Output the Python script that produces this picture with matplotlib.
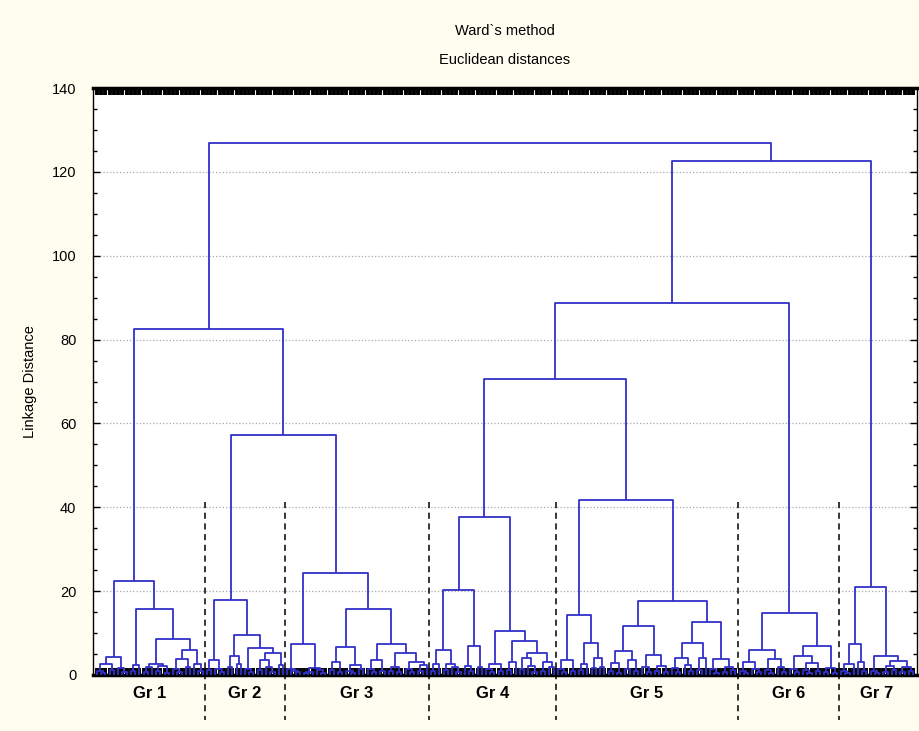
import matplotlib
matplotlib.use('Agg')
import matplotlib.pyplot as plt
from matplotlib.collections import LineCollection
from matplotlib.ticker import MultipleLocator, FixedLocator, NullFormatter

# ---------------- data ----------------
# node = (merge height, left, right); 0 = a single leaf (object)
gr1 = (22.4,
       (4.2, (2.7, (1.0, 0, (0.5, 0, 0)), (1.2, 0, 0)), (1.7, 0, (0.8, 0, 0))),
       (15.7,
        (2.4, (1.0, 0, 0), 0),
        (8.5,
         (2.7, (1.8, (0.7, 0, 0), 0), (2.2, (0.9, 0, 0), (0.5, 0, 0))),
         (6.0,
          (3.8, (1.5, 0, (0.6, 0, 0)), (2.0, 0, 0)),
          (2.7, 0, (1.0, 0, 0))))))

gr2 = (17.8,
       (3.6, (1.3, 0, 0), (1.5, 0, (0.6, 0, 0))),
       (9.5,
        (4.5, (1.8, 0, 0), (2.6, 0, 0)),
        (6.4,
         (1.5, 0, (0.7, 0, 0)),
         (5.2, (3.6, (1.2, 0, 0), (2.0, 0, (0.8, 0, 0))), (2.5, 0, 0)))))

gr3 = (24.3,
       (7.4, (1.5, 0, (1.0, 0, (0.6, 0, 0))),
        (1.6, (0.8, (0.4, 0, 0), 0), (1.2, 0, (0.5, 0, 0)))),
       (15.7,
        (6.6, (3.2, (1.2, 0, 0), (0.7, 0, 0)),
         (2.5, (1.0, 0, (0.5, 0, 0)), (1.4, 0, 0))),
        (7.4,
         (3.5, (1.5, 0, (0.6, 0, 0)), (1.0, 0, 0)),
         (5.3,
          (2.0, (0.9, 0, 0), (0.8, 0, 0)),
          (3.2, (1.5, 0, (0.7, 0, 0)), (2.3, (1.0, 0, 0), 0))))))

gr4 = (37.7,
       (20.3,
        (6.0, (2.7, (1.0, 0, 0), 0), (2.7, (1.2, 0, 0), (1.8, 0, (0.7, 0, 0)))),
        (7.0, (2.2, 0, (0.9, 0, 0)), (2.0, 0, 0))),
       (10.6,
        (2.6, (1.5, 0, (0.6, 0, 0)), (1.0, 0, 0)),
        (8.1,
         (3.0, (1.2, 0, 0), 0),
         (5.2, (4.0, (1.5, 0, 0), (2.2, 0, (0.8, 0, 0))),
          (3.0, (1.0, 0, 0), (1.8, 0, 0))))))

gr5 = (41.7,
       (14.3,
        (3.6, (1.5, 0, (0.6, 0, 0)), (1.0, 0, 0)),
        (7.7, (2.6, (1.2, 0, 0), 0), (4.1, (1.6, 0, 0), (2.0, 0, 0)))),
       (17.7,
        (11.7,
         (5.7, (2.9, (1.0, 0, 0), (0.5, 0, 0)), (3.6, (1.4, 0, 0), (1.0, 0, 0))),
         (4.8, (2.0, 0, (0.8, 0, 0)), (2.2, (1.0, 0, 0), (0.6, 0, 0)))),
        (12.7,
         (7.7, (4.1, (1.6, 0, (0.6, 0, 0)), (2.4, 0, (1.0, 0, 0))), (4.1, (1.2, 0, 0), 0)),
         (3.7, (1.5, 0, (0.5, 0, 0)), (2.0, (0.8, 0, 0), (1.1, 0, 0))))))

gr6 = (14.7,
       (6.0,
        (3.2, (1.0, 0, (0.4, 0, 0)), (1.4, 0, (0.6, 0, 0))),
        (3.8, (1.2, 0, (0.5, 0, 0)), (2.0, 0, (0.8, 0, 0)))),
       (7.0,
        (4.5, (1.5, 0, (0.7, 0, 0)), (2.9, (1.2, 0, (0.5, 0, 0)), (1.0, 0, 0))),
        (1.6, (0.8, 0, 0), (0.5, 0, 0))))

gr7 = (21.1,
       (7.4, (2.7, (1.0, 0, (0.5, 0, 0)), 0), (3.2, 0, (1.0, 0, 0))),
       (4.5, (1.0, 0, (0.5, 0, 0)),
        (3.4, (2.2, (0.8, 0, 0), (1.2, 0, 0)), (1.9, (0.7, 0, 0), (1.0, 0, 0)))))

groups = [gr1, gr2, gr3, gr4, gr5, gr6, gr7]
group_labels = ['Gr 1', 'Gr 2', 'Gr 3', 'Gr 4', 'Gr 5', 'Gr 6', 'Gr 7']
# upper merges: root, (Gr1 | Gr2-3), (Gr2 | Gr3), (Gr4-6 | Gr7), (Gr4-5 | Gr6), (Gr4 | Gr5)
upper_heights = [127.0, 82.6, 57.2, 122.6, 88.8, 70.5]
y_ticks = [0, 20, 40, 60, 80, 100, 120, 140]
separator_top = 41.3
title_lines = ['Ward`s method', 'Euclidean distances']
y_label = 'Linkage Distance'

h_root, h_a, h_b, h_c, h_d, h_e = upper_heights
tree = (h_root,
        (h_a, gr1, (h_b, gr2, gr3)),
        (h_c, (h_d, (h_e, gr4, gr5), gr6), gr7))

# ---------------- layout ----------------
def count_leaves(node):
    if node == 0:
        return 1
    return count_leaves(node[1]) + count_leaves(node[2])

segs = []
counter = [0]

def layout(node):
    if node == 0:
        x = counter[0]
        counter[0] += 1
        return float(x), 0.0
    h, l, r = node
    xl, hl = layout(l)
    xr, hr = layout(r)
    segs.append([(xl, hl), (xl, h), (xr, h), (xr, hr)])
    return (xl + xr) / 2.0, h

layout(tree)
n_leaves = counter[0]
sizes = [count_leaves(g) for g in groups]
bounds = [0]
for s in sizes:
    bounds.append(bounds[-1] + s)

# ---------------- drawing ----------------
plt.rcParams['font.family'] = ['Liberation Sans', 'DejaVu Sans']
fig = plt.figure(figsize=(9.2, 7.31), dpi=100, facecolor='#FFFCF0')
ax = fig.add_axes([93 / 920, 56 / 731, 824 / 920, 587 / 731])
ax.set_facecolor('white')

lc = LineCollection(segs, colors='#3030C8', linewidths=1.3, zorder=3)
ax.add_collection(lc)

ax.set_xlim(-0.95, n_leaves - 1 + 0.95)
ax.set_ylim(0, 140)

ax.yaxis.set_major_locator(FixedLocator(y_ticks))
ax.yaxis.set_minor_locator(MultipleLocator(5))
ax.tick_params(axis='y', which='both', direction='in', left=True, right=True,
               labelsize=10.5, colors='black', pad=12)
ax.tick_params(axis='y', which='major', length=5, width=1)
ax.tick_params(axis='y', which='minor', length=3, width=1)
ax.grid(axis='y', which='major', linestyle=':', color='#A8A8A8', linewidth=0.9, zorder=0)

ax.xaxis.set_major_locator(FixedLocator(list(range(n_leaves))))
ax.xaxis.set_major_formatter(NullFormatter())
ax.tick_params(axis='x', which='major', direction='in', top=True, bottom=True,
               length=5, width=2.8, color='black')
for side in ['top', 'bottom']:
    ax.spines[side].set_linewidth(2.5)
for side in ['left', 'right']:
    ax.spines[side].set_linewidth(1.0)

# group separators (dashed), extending below the axes
for b in bounds[1:-1]:
    xs = b - 0.5
    ax.plot([xs, xs], [separator_top, -10.8], linestyle=(0, (4, 3)), color='black',
            linewidth=1.1, clip_on=False, zorder=4)

# group labels
for lab, b0, b1 in zip(group_labels, bounds[:-1], bounds[1:]):
    ax.text((b0 + b1 - 1) / 2.0, -4.3, lab, ha='center', va='center',
            fontsize=12, fontweight='bold', clip_on=False)

fig.text(505 / 920, 1 - 31 / 731, title_lines[0], ha='center', va='center', fontsize=10.5)
fig.text(505 / 920, 1 - 60 / 731, title_lines[1], ha='center', va='center', fontsize=10.5)
ax.set_ylabel(y_label, fontsize=10.5)
ax.yaxis.set_label_coords(-0.068, 0.5)

fig.savefig('out.png', dpi=100, facecolor=fig.get_facecolor())
